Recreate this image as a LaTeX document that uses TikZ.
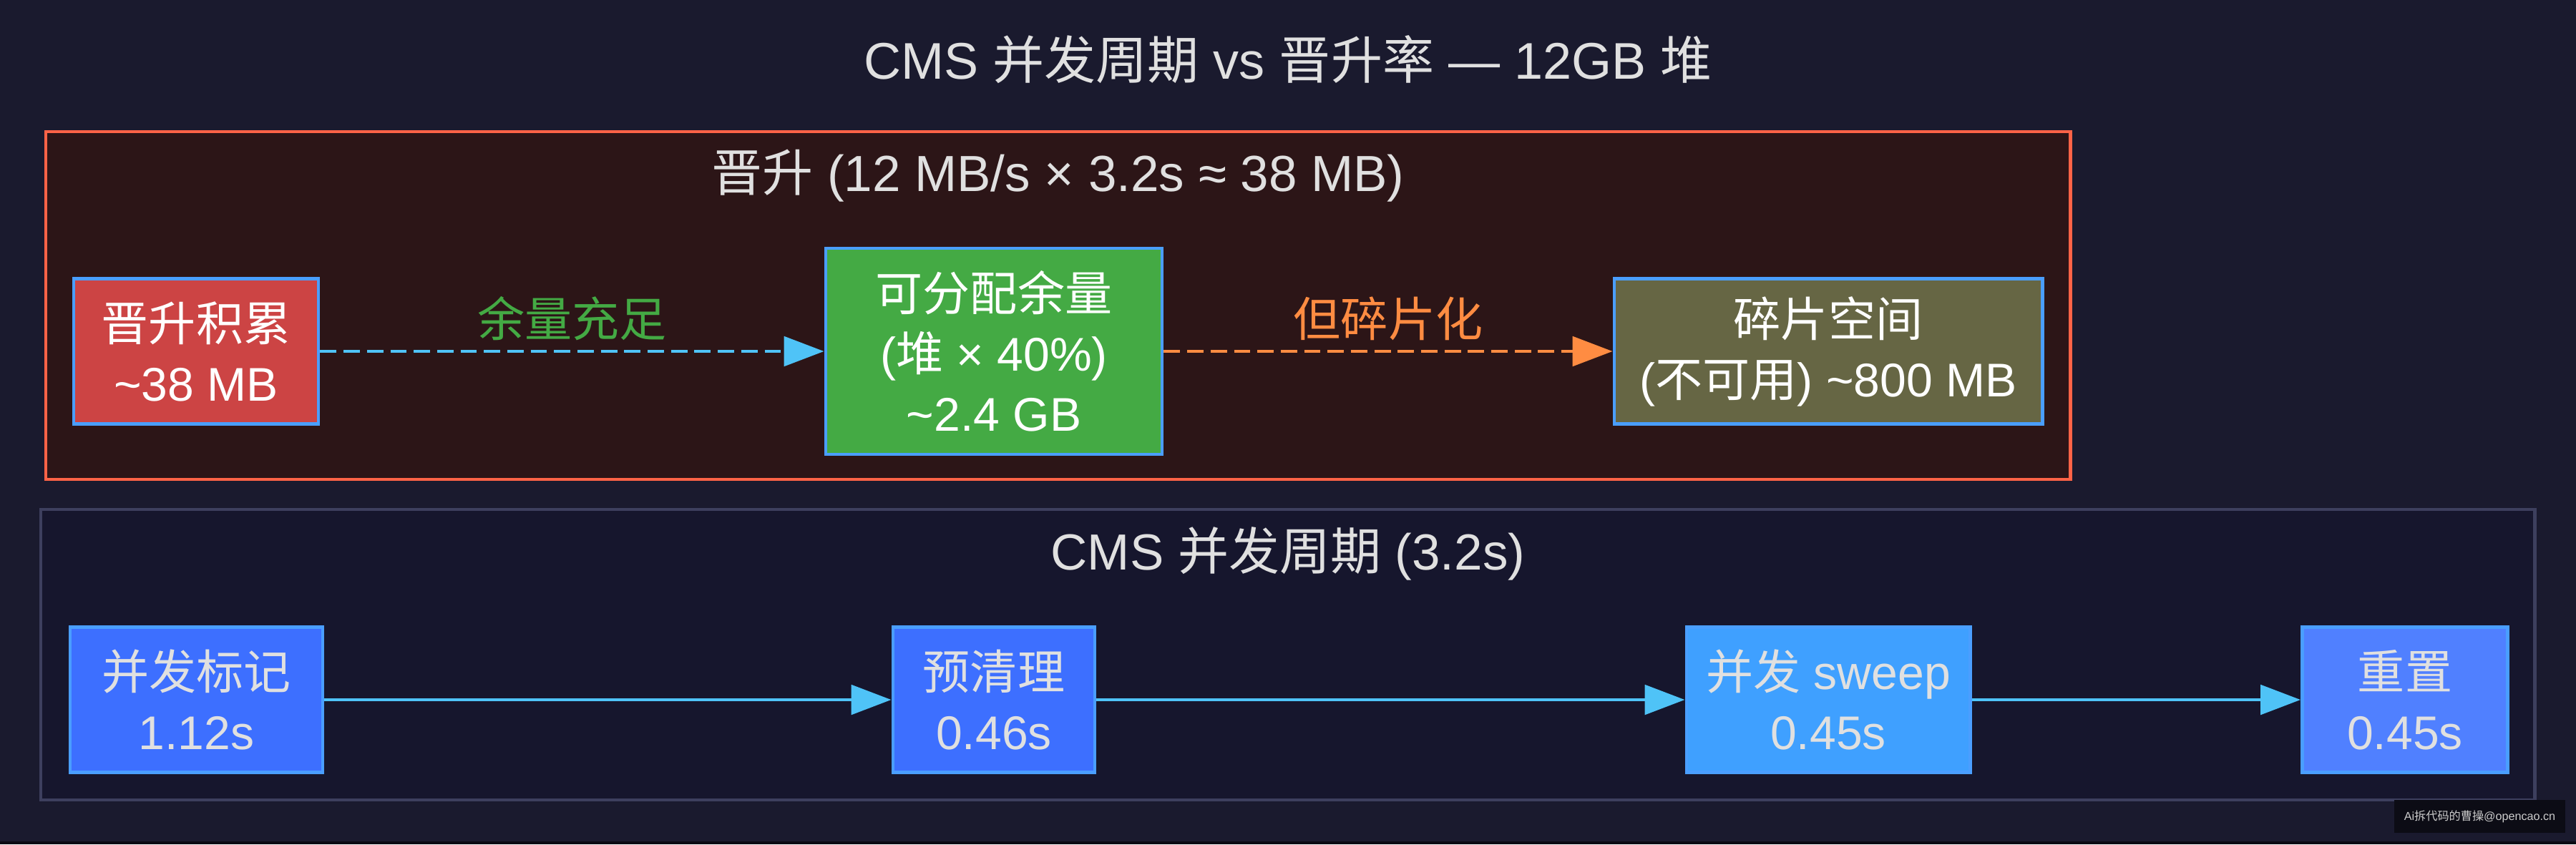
\documentclass[tikz,border=0pt]{standalone}
\usepackage{fontspec}
\usetikzlibrary{arrows.meta}
\setmainfont{Liberation Sans}
\newfontfamily\cjk{Noto Sans CJK SC}
\newcommand{\zh}[1]{{\cjk #1}}

\definecolor{bgcol}{HTML}{1A1A2E}
\definecolor{promofill}{HTML}{2C1517}
\definecolor{promoline}{HTML}{FF6347}
\definecolor{cyclefill}{HTML}{16162D}
\definecolor{cycleline}{HTML}{3D3F5E}
\definecolor{boxline}{HTML}{4A9EFF}
\definecolor{txtgrey}{HTML}{E0E0E0}
\definecolor{accred}{HTML}{CC4444}
\definecolor{freegreen}{HTML}{44AA44}
\definecolor{fragolive}{HTML}{666644}
\definecolor{markblue}{HTML}{3D6FFF}
\definecolor{sweepblue}{HTML}{3FA0FF}
\definecolor{resetblue}{HTML}{5080FF}
\definecolor{arrowblue}{HTML}{4FC3F7}
\definecolor{arroworange}{HTML}{FF8C42}

\begin{document}
\begin{tikzpicture}[
    box/.style={draw=boxline, line width=1.4pt, minimum height=2.03cm, inner sep=0pt,
        align=center, font=\fontsize{18.8}{23.9}\selectfont},
    flow/.style={line width=1.4pt, -{Triangle[length=15.9pt,width=11.7pt]}},
    gap/.style={dash pattern=on 6.5pt off 2.8pt},
    edgelabel/.style={midway, yshift=0.46cm, font=\fontsize{18.8}{23.9}\selectfont},
]
    \fill[bgcol] (0,0) rectangle (36,-11.8);
    \useasboundingbox (0,0) rectangle (36,-11.8);
    \fill[black!60!bgcol] (0,-11.76) rectangle (36,-11.8);

    % title
    \node[text=txtgrey, font=\fontsize{20.5}{24}\selectfont] (title) at (18,-0.83)
        {CMS \zh{并发周期} vs \zh{晋升率} — 12GB \zh{堆}};

    % promotion cluster
    \draw[promoline, fill=promofill, line width=1.4pt] (0.64,-1.84) rectangle (28.93,-6.70);
    \node[text=txtgrey, font=\fontsize{20.2}{24}\selectfont] (promolabel) at (14.785,-2.46)
        {\zh{晋升} (12 MB/s × 3.2s ≈ 38 MB)};

    \node[box, fill=accred, text=white, minimum width=3.42cm] (acc) at (2.74,-4.91)
        {\zh{晋升积累}\\\textasciitilde38 MB};
    \node[box, fill=freegreen, text=white, minimum width=4.70cm, minimum height=2.88cm] (free) at (13.89,-4.91)
        {\zh{可分配余量}\\(\zh{堆} × 40\%)\\\textasciitilde2.4 GB};
    \node[box, fill=fragolive, text=white, minimum width=5.98cm] (frag) at (25.55,-4.91)
        {\zh{碎片空间}\\(\zh{不可用}) \textasciitilde800 MB};

    \draw[flow, gap, arrowblue] (acc) -- node[edgelabel, text=freegreen] {\zh{余量充足}} (free);
    \draw[flow, gap, arroworange] (free) -- node[edgelabel, text=arroworange] {\zh{但碎片化}} (frag);

    % CMS cycle cluster
    \draw[cycleline, fill=cyclefill, line width=1.4pt] (0.57,-7.12) rectangle (35.42,-11.18);
    \node[text=txtgrey, font=\fontsize{20.2}{24}\selectfont] (cyclelabel) at (18,-7.74)
        {CMS \zh{并发周期} (3.2s)};

    \node[box, fill=markblue, text=txtgrey, minimum width=3.53cm] (mark) at (2.745,-9.78)
        {\zh{并发标记}\\1.12s};
    \node[box, fill=markblue, text=txtgrey, minimum width=2.82cm] (pre) at (13.89,-9.78)
        {\zh{预清理}\\0.46s};
    \node[box, fill=sweepblue, text=txtgrey, minimum width=3.96cm] (sweep) at (25.55,-9.78)
        {\zh{并发} sweep\\0.45s};
    \node[box, fill=resetblue, text=txtgrey, minimum width=2.87cm] (reset) at (33.61,-9.78)
        {\zh{重置}\\0.45s};

    \draw[flow, arrowblue] (mark) -- (pre);
    \draw[flow, arrowblue] (pre) -- (sweep);
    \draw[flow, arrowblue] (sweep) -- (reset);

    % watermark
    \fill[black!55!bgcol] (33.46,-11.18) rectangle (35.85,-11.64);
    \node[text=black!20, font=\fontsize{4.6}{5}\selectfont] (mark2) at (34.655,-11.41)
        {Ai\zh{拆代码的曹操}@opencao.cn};
\end{tikzpicture}
\end{document}
